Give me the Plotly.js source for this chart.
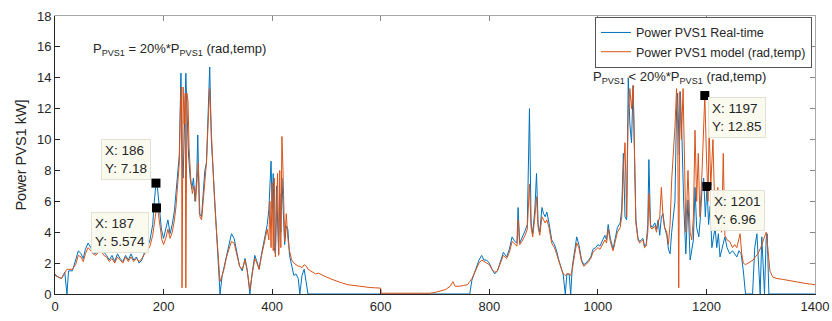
<!DOCTYPE html>
<html>
<head>
<meta charset="utf-8">
<script src="https://cdn.plot.ly/plotly-3.0.1.min.js"></script>
<style>html,body{margin:0;padding:0;background:#fff;}#chart{width:832px;height:321px;}</style>
</head>
<body>
<div id="chart"></div>
<script>
// Real-time measured power (blue)
const realX = [0,5,12,18,22,25,32,38,43,48,52,56,61,66,70,75,80,85,90,95,100,105,110,115,120,125,130,135,140,145,150,155,160,165,170,175,180,183,186,189,192,196,200,204,208,212,216,220,223,226,229,232,234,236,238,241,243,246,249,252,255,258,261,263,266,270,273,276,279,282,285,288,291,294,297,300,304,308,312,316,320,325,330,335,340,345,350,354,359,363,368,372,376,380,384,388,391,394,396,398,400,402,404,406,408,410,412,414,416,418,420,423,426,429,432,436,440,444,448,451,455,459,463,466,600,764,768,772,776,781,786,790,795,800,805,810,815,820,826,832,837,842,847,851,853,856,860,866,870,874,877,880,884,887,890,893,897,900,903,906,910,915,920,924,928,932,936,940,943,947,950,953,957,961,965,970,974,978,983,987,991,996,1000,1004,1009,1013,1016,1019,1023,1028,1032,1036,1041,1044,1047,1050,1053,1056,1059,1062,1065,1068,1070,1074,1077,1080,1083,1086,1089,1092,1094,1097,1100,1105,1108,1111,1114,1117,1120,1123,1127,1130,1133,1136,1139,1142,1145,1147,1150,1152,1155,1158,1162,1166,1170,1173,1176,1179,1182,1186,1189,1192,1195,1198,1201,1204,1207,1210,1213,1216,1219,1222,1225,1229,1234,1238,1243,1248,1252,1256,1260,1264,1268,1272,1285,1289,1293,1296,1299,1302,1305,1307,1310,1312,1315,1400];
const realY = [1.2,1.1,1.0,1.4,0.0,1.5,1.5,2.2,2.8,2.6,2.3,2.9,3.3,3.0,2.7,2.6,2.9,3.0,2.7,2.5,2.2,2.5,2.1,2.6,2.3,2.1,2.5,2.2,2.6,2.2,2.4,2.0,2.2,2.7,3.0,3.5,4.5,6.0,7.18,6.8,5.5,4.2,3.6,4.2,4.8,3.9,4.5,5.4,6.5,8.0,9.0,14.3,9.0,7.5,10.0,14.3,12.0,9.0,7.5,6.8,7.5,6.0,7.5,10.3,5.2,5.0,6.5,8.0,8.5,12.0,14.7,10.0,8.0,6.5,4.5,2.5,0.0,1.2,1.8,2.6,3.2,3.9,3.6,2.8,1.8,1.5,2.3,1.6,0.0,1.3,2.5,2.1,1.6,2.5,3.2,4.0,4.5,5.5,7.5,8.6,5.5,7.8,3.0,2.6,7.0,4.5,2.6,6.5,4.0,7.5,6.0,3.2,4.4,4.2,2.5,1.8,1.2,1.3,1.0,0.0,1.2,1.6,0.8,0.0,0.0,0.0,0.9,1.3,1.8,2.2,2.5,2.2,2.2,2.0,1.6,1.3,1.5,2.0,2.7,2.4,2.9,3.7,3.4,3.3,5.6,3.3,3.6,4.1,4.5,12.0,4.6,3.9,5.5,7.8,4.5,4.0,5.6,5.2,5.0,5.3,4.6,3.5,3.2,2.8,2.2,1.7,1.3,0.0,1.3,1.3,0.0,1.8,2.8,3.7,3.2,2.2,1.9,2.0,2.2,2.4,2.9,3.0,3.2,3.1,3.5,3.8,3.5,4.5,3.6,2.9,3.6,4.3,4.6,5.5,9.1,5.0,4.8,14.0,11.0,9.8,13.5,7.0,4.8,3.6,3.4,3.5,3.6,3.1,3.2,4.5,8.7,4.5,4.3,4.6,4.2,4.8,3.8,5.0,5.2,4.3,3.8,2.9,2.6,4.0,5.0,6.0,12.0,13.0,9.0,13.1,10.0,6.0,2.6,6.1,2.2,3.0,3.5,6.9,4.3,3.7,5.0,6.9,7.5,5.0,6.96,4.5,5.7,3.0,3.6,4.3,3.0,3.9,2.4,3.0,3.7,3.0,2.6,2.8,2.6,2.4,2.8,2.6,1.5,0.0,0.0,3.0,3.9,1.5,0.0,3.7,1.0,0.0,3.5,3.9,0.0,0.0];

// Model power (rad,temp) (orange)
const modelX = [0,5,12,18,22,25,32,38,43,48,52,56,61,66,70,75,80,85,90,95,100,105,110,115,120,125,130,135,140,145,150,155,160,165,170,175,180,183,187,190,193,197,200,204,208,212,216,220,223,226,229,231,233,234,236,238,240,241,243,245,247,250,253,256,259,262,264,267,270,273,276,279,282,285,288,291,294,297,300,304,308,312,316,320,325,330,335,340,345,350,354,359,363,368,372,376,380,384,388,391,394,396,398,400,402,404,406,408,410,412,414,416,418,420,423,426,429,432,436,440,444,448,451,455,459,463,466,470,475,480,485,490,495,500,510,520,530,540,550,560,570,580,590,600,601,650,690,700,710,720,728,733,737,745,752,760,764,768,772,776,781,786,790,795,800,805,810,815,820,826,832,837,842,847,851,853,856,860,866,870,874,877,880,884,887,890,893,897,900,903,906,910,915,920,924,928,932,936,940,943,947,950,953,957,961,965,970,974,978,983,987,991,996,1000,1004,1009,1013,1016,1019,1023,1028,1032,1036,1041,1044,1047,1050,1053,1056,1059,1062,1065,1068,1070,1074,1077,1080,1083,1086,1089,1092,1094,1097,1100,1105,1108,1111,1114,1117,1120,1123,1127,1130,1133,1136,1139,1142,1145,1147,1149,1151,1154,1157,1160,1162,1166,1170,1173,1176,1179,1182,1185,1188,1192,1197,1200,1203,1205,1208,1212,1215,1218,1221,1224,1228,1231,1234,1238,1243,1248,1252,1256,1260,1262,1265,1268,1272,1277,1282,1286,1290,1295,1300,1305,1310,1313,1317,1322,1330,1340,1360,1380,1400];
const modelY = [1.3,1.1,1.0,1.4,1.6,1.6,1.6,1.9,2.5,2.4,2.1,2.6,3.0,2.8,2.6,2.5,2.7,2.8,2.5,2.4,2.1,2.3,2.0,2.4,2.2,2.0,2.4,2.1,2.4,2.1,2.3,2.1,2.3,2.6,2.8,3.1,3.8,4.7,5.574,5.3,4.4,3.5,3.2,3.6,4.2,3.6,4.0,4.8,5.7,7.0,8.5,12.0,13.4,0.4,13.4,11.0,13.0,0.4,13.0,12.5,9.5,7.5,6.5,7.0,6.0,7.5,8.5,5.0,4.8,6.0,7.5,8.5,11.0,13.3,10.5,8.0,6.0,4.3,2.6,0.8,1.2,1.7,2.4,2.9,3.4,3.3,2.6,1.8,1.6,2.2,1.5,0.3,1.2,2.3,2.0,1.6,2.4,3.0,3.7,4.2,3.5,6.0,3.0,7.2,2.8,7.5,2.4,5.0,7.8,2.5,8.0,3.0,10.2,8.0,3.4,5.2,3.6,2.8,2.2,2.0,1.9,1.8,1.8,1.7,1.9,1.8,1.6,1.5,1.4,1.3,1.35,1.25,1.2,1.1,0.95,0.8,0.7,0.6,0.55,0.5,0.45,0.42,0.4,0.38,0.05,0.05,0.05,0.1,0.2,0.3,0.5,0.8,0.5,0.5,0.55,0.6,0.8,1.0,1.3,1.6,2.0,2.2,2.1,2.0,1.9,1.6,1.4,1.5,1.9,2.5,2.3,2.7,3.4,3.2,3.1,4.8,3.2,3.4,3.8,4.2,7.1,4.3,3.7,5.0,6.3,4.3,3.8,5.0,4.8,4.6,4.8,4.3,3.3,3.0,2.6,2.1,1.7,1.3,1.2,1.3,1.3,1.2,1.6,2.5,3.3,3.0,2.1,1.8,1.9,2.1,2.3,2.7,2.9,3.0,2.9,3.3,3.5,3.3,4.2,3.4,2.8,3.4,4.0,4.3,5.0,8.0,9.8,5.0,12.0,13.3,12.0,13.5,6.5,4.6,3.5,3.3,3.4,3.5,3.0,3.1,4.0,6.5,4.3,4.2,4.4,4.0,4.6,5.0,6.9,5.0,4.3,4.0,3.2,4.5,7.4,9.0,10.8,13.3,11.0,0.4,13.1,10.0,13.3,8.0,4.0,8.0,4.0,3.5,5.0,10.6,6.0,9.1,5.0,8.0,12.85,9.0,6.0,10.8,7.0,10.0,6.0,5.0,6.9,4.5,4.0,9.1,3.8,3.5,3.4,3.0,3.2,3.0,3.6,3.9,2.6,2.0,1.9,2.0,2.1,2.2,2.4,2.6,3.0,3.5,4.0,3.0,1.5,1.1,1.0,0.95,0.8,0.7,0.6];

// Data tips
const tipX = [186, 187, 1197, 1201];
const tipY = [7.18, 5.574, 12.85, 6.96];

const xTicks = [0,200,400,600,800,1000,1200,1400];
const yTicks = [0,2,4,6,8,10,12,14,16,18];

const FONT = "Liberation Sans, Arial, Helvetica, sans-serif";
const TXT = "#262626";

const traces = [
  {x: realX, y: realY, type: 'scatter', mode: 'lines', name: 'Power PVS1 Real-time',
   line: {color: '#0072BD', width: 1}, hoverinfo: 'skip'},
  {x: modelX, y: modelY, type: 'scatter', mode: 'lines', name: 'Power PVS1 model (rad,temp)',
   line: {color: '#D95319', width: 1}, hoverinfo: 'skip'},
  {x: tipX, y: tipY, type: 'scatter', mode: 'markers', showlegend: false,
   marker: {symbol: 'square', size: 9, color: '#000'}, hoverinfo: 'skip'},
  {x: [null], y: [null], xaxis: 'x2', yaxis: 'y2', type: 'scatter', mode: 'lines',
   showlegend: false, hoverinfo: 'skip'}
];

const tipBox = {showarrow: false, align: 'left', bgcolor: 'rgba(250,250,238,0.95)',
  bordercolor: '#e2e2d4', borderwidth: 1, borderpad: 3,
  font: {family: FONT, size: 13.5, color: TXT}, xref: 'x', yref: 'y'};

const layout = {
  width: 832, height: 321,
  margin: {l: 55, r: 17, t: 16, b: 27},
  paper_bgcolor: '#fff', plot_bgcolor: '#fff',
  font: {family: FONT, size: 13, color: TXT},
  showlegend: true,
  legend: {x: 0.996, y: 0.997, xanchor: 'right', yanchor: 'top',
    bgcolor: '#fff', bordercolor: '#555', borderwidth: 1,
    font: {family: FONT, size: 12.5, color: TXT}, tracegroupgap: 0},
  xaxis: {range: [0, 1400], tickvals: xTicks, ticktext: xTicks.map(String),
    showgrid: false, zeroline: false, showline: true, linecolor: TXT, linewidth: 1,
    ticks: 'inside', ticklen: 5, tickcolor: TXT, tickfont: {family: FONT, size: 13, color: TXT}},
  yaxis: {range: [0, 18], tickvals: yTicks, ticktext: yTicks.map(String),
    showgrid: false, zeroline: false, showline: true, linecolor: TXT, linewidth: 1,
    ticks: 'inside', ticklen: 5, tickcolor: TXT, tickfont: {family: FONT, size: 13, color: TXT},
    title: {text: 'Power PVS1 kW]', font: {family: FONT, size: 14.5, color: TXT}, standoff: 6}},
  xaxis2: {overlaying: 'x', side: 'top', range: [0, 1400], tickvals: xTicks,
    showticklabels: false, showgrid: false, zeroline: false, showline: true,
    linecolor: '#a8a8a8', ticks: 'inside', ticklen: 5, tickcolor: '#888'},
  yaxis2: {overlaying: 'y', side: 'right', range: [0, 18], tickvals: yTicks,
    showticklabels: false, showgrid: false, zeroline: false, showline: true,
    linecolor: '#a8a8a8', ticks: 'inside', ticklen: 5, tickcolor: '#888'},
  annotations: [
    {x: 230, y: 15.8, xref: 'x', yref: 'y', showarrow: false,
     text: 'P<sub>PVS1</sub> = 20%*P<sub>PVS1</sub> (rad,temp)',
     font: {family: FONT, size: 13, color: TXT}},
    {x: 1151, y: 14.0, xref: 'x', yref: 'y', showarrow: false,
     text: 'P<sub>PVS1</sub> &lt; 20%*P<sub>PVS1</sub> (rad,temp)',
     font: {family: FONT, size: 13, color: TXT}},
    Object.assign({}, tipBox, {x: 131, y: 8.74, text: 'X: ' + tipX[0] + '<br>Y: ' + tipY[0]}),
    Object.assign({}, tipBox, {x: 120, y: 4.0, text: 'X: ' + tipX[1] + '<br>Y: ' + tipY[1]}),
    Object.assign({}, tipBox, {x: 1256, y: 11.4, text: 'X: ' + tipX[2] + '<br>Y: ' + tipY[2]}),
    Object.assign({}, tipBox, {x: 1258, y: 5.4, text: 'X: ' + tipX[3] + '<br>Y: ' + tipY[3]})
  ]
};

Plotly.newPlot('chart', traces, layout, {staticPlot: true, displayModeBar: false});
</script>
</body>
</html>
